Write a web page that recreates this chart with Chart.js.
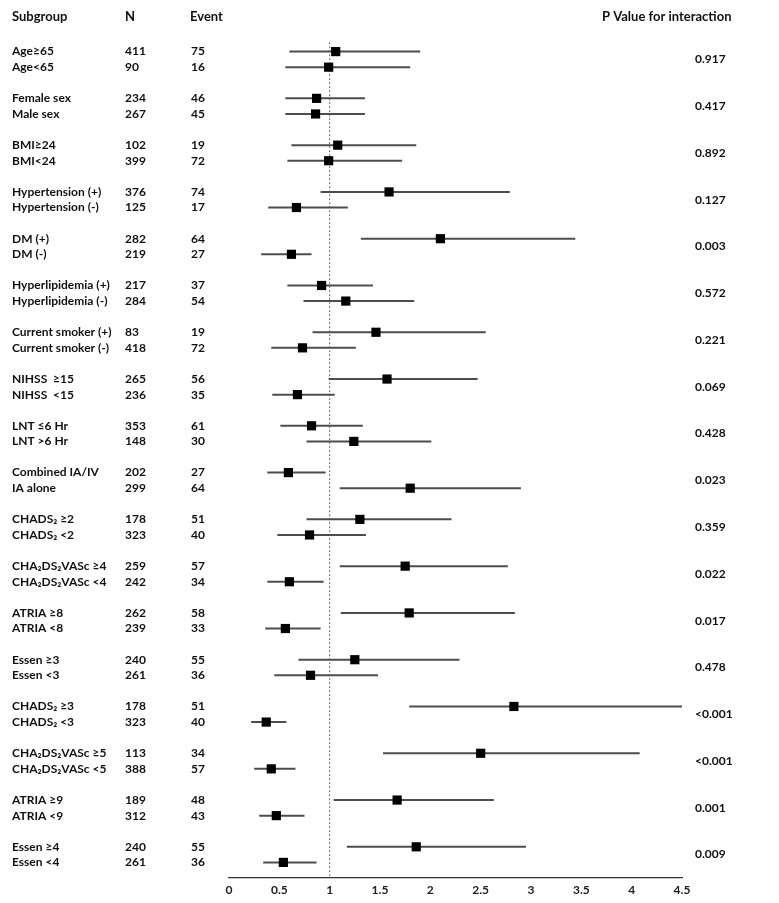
<!DOCTYPE html>
<html>
<head>
<meta charset="utf-8">
<script src="https://cdn.jsdelivr.net/npm/chart.js@4/dist/chart.umd.min.js"></script>
<style>
  html, body { margin: 0; padding: 0; background: #fff; }
  #forest { display: block; }
</style>
</head>
<body>
<canvas id="forest" width="779" height="903"></canvas>
<script>
// subgroup rows, two per group
var subgroups = [
    "Age\u226565", "Age<65",
    "Female sex", "Male sex",
    "BMI\u226524", "BMI<24",
    "Hypertension (+)", "Hypertension (-)",
    "DM (+)", "DM (-)",
    "Hyperlipidemia (+)", "Hyperlipidemia (-)",
    "Current smoker (+)", "Current smoker (-)",
    "NIHSS  \u226515", "NIHSS  <15",
    "LNT \u22646 Hr", "LNT >6 Hr",
    "Combined IA/IV", "IA alone",
    "CHADS\u2082 \u22652", "CHADS\u2082 <2",
    "CHA\u2082DS\u2082VASc \u22654", "CHA\u2082DS\u2082VASc <4",
    "ATRIA \u22658", "ATRIA <8",
    "Essen \u22653", "Essen <3",
    "CHADS\u2082 \u22653", "CHADS\u2082 <3",
    "CHA\u2082DS\u2082VASc \u22655", "CHA\u2082DS\u2082VASc <5",
    "ATRIA \u22659", "ATRIA <9",
    "Essen \u22654", "Essen <4"
];
var nCounts = [411, 90, 234, 267, 102, 399, 376, 125, 282, 219, 217, 284, 83, 418, 265, 236, 353, 148,
               202, 299, 178, 323, 259, 242, 262, 239, 240, 261, 178, 323, 113, 388, 189, 312, 240, 261];
var events = [75, 16, 46, 45, 19, 72, 74, 17, 64, 27, 37, 54, 19, 72, 56, 35, 61, 30,
              27, 64, 51, 40, 57, 34, 58, 33, 55, 36, 51, 40, 34, 57, 48, 43, 55, 36];
var hr = [1.06, 0.99, 0.87, 0.86, 1.08, 0.99, 1.59, 0.67, 2.10, 0.62, 0.92, 1.16, 1.46, 0.73, 1.57, 0.68, 0.82, 1.24,
          0.59, 1.80, 1.30, 0.80, 1.75, 0.60, 1.79, 0.56, 1.25, 0.81, 2.83, 0.37, 2.50, 0.42, 1.67, 0.47, 1.86, 0.54];
var lower = [0.60, 0.56, 0.56, 0.56, 0.62, 0.58, 0.91, 0.39, 1.31, 0.32, 0.58, 0.74, 0.83, 0.42, 0.99, 0.43, 0.51, 0.77,
             0.38, 1.10, 0.77, 0.48, 1.10, 0.38, 1.11, 0.36, 0.69, 0.45, 1.79, 0.22, 1.53, 0.25, 1.04, 0.30, 1.17, 0.34];
var upper = [1.90, 1.80, 1.35, 1.35, 1.86, 1.72, 2.79, 1.18, 3.44, 0.82, 1.43, 1.84, 2.55, 1.26, 2.47, 1.05, 1.33, 2.01,
             0.96, 2.90, 2.21, 1.36, 2.77, 0.94, 2.84, 0.91, 2.29, 1.48, 4.50, 0.57, 4.08, 0.66, 2.63, 0.75, 2.95, 0.87];
var pValues = ["0.917", "0.417", "0.892", "0.127", "0.003", "0.572", "0.221", "0.069", "0.428",
               "0.023", "0.359", "0.022", "0.017", "0.478", "<0.001", "<0.001", "0.001", "0.009"];
var headers = ["Subgroup", "N", "Event", "P Value for interaction"];
var xTickLabels = ["0", "0.5", "1", "1.5", "2", "2.5", "3", "3.5", "4", "4.5"];

// each group takes 3 rows: two subgroups and a gap
function rowPos(i) {
    return Math.floor(i / 2) * 3 + (i % 2);
}

var ciData = [];
var hrData = [];
for (var i = 0; i < subgroups.length; i++) {
    ciData.push({x: lower[i], y: rowPos(i)});
    ciData.push({x: upper[i], y: rowPos(i)});
    ciData.push({x: null, y: null});
    hrData.push({x: hr[i], y: rowPos(i)});
}

var textFont = "bold 12px Lato, 'Open Sans', sans-serif";
var headFont = "bold 13px Lato, 'Open Sans', sans-serif";

var tablePlugin = {
    id: 'tableText',
    afterDraw: function(chart) {
        var ctx = chart.ctx;
        var y = chart.scales.y;
        ctx.save();
        ctx.fillStyle = '#111';
        ctx.textBaseline = 'middle';
        ctx.textAlign = 'left';
        ctx.font = headFont;
        ctx.fillText(headers[0], 12, 17);
        ctx.fillText(headers[1], 125, 17);
        ctx.fillText(headers[2], 190, 17);
        ctx.fillText(headers[3], 602, 17);
        ctx.font = textFont;
        for (var i = 0; i < subgroups.length; i++) {
            var py = y.getPixelForValue(rowPos(i));
            ctx.fillText(subgroups[i], 12, py);
            ctx.fillText(String(nCounts[i]), 125, py);
            ctx.fillText(String(events[i]), 191, py);
        }
        for (var g = 0; g < pValues.length; g++) {
            ctx.fillText(pValues[g], 695, y.getPixelForValue(g * 3 + 0.5));
        }
        ctx.restore();
    }
};

new Chart(document.getElementById("forest"), {
    "type": "scatter",
    "data": {
        "datasets": [
            {
                "label": "HR",
                "order": 0,
                "data": hrData,
                "pointStyle": "rect",
                "pointRadius": 6.5,
                "backgroundColor": "#000",
                "borderColor": "#000",
                "borderWidth": 0
            },
            {
                "label": "CI",
                "order": 1,
                "data": ciData,
                "showLine": true,
                "spanGaps": false,
                "borderColor": "#4d4d4d",
                "borderWidth": 2,
                "pointRadius": 0
            },
            {
                "label": "ref",
                "order": 2,
                "data": [{x: 1, y: -0.6}, {x: 1, y: 53}],
                "showLine": true,
                "borderColor": "#666",
                "borderWidth": 1,
                "borderDash": [2, 2],
                "pointRadius": 0
            }
        ]
    },
    "options": {
        "responsive": false,
        "animation": false,
        "layout": {"padding": {"left": 229, "right": 97, "top": 36, "bottom": 0}},
        "plugins": {"legend": {"display": false}, "tooltip": {"enabled": false}},
        "scales": {
            "x": {
                "type": "linear",
                "min": 0,
                "max": 4.5,
                "afterFit": function(scale) { scale.height = 25; },
                "grid": {"display": false, "drawTicks": false},
                "border": {"display": true, "color": "#333", "width": 1.2},
                "ticks": {
                    "stepSize": 0.5,
                    "padding": 5,
                    "color": "#222",
                    "font": {"family": "Lato, 'Open Sans', sans-serif", "size": 12, "weight": "bold"},
                    "callback": function(v, idx) { return xTickLabels[idx]; }
                }
            },
            "y": {
                "type": "linear",
                "reverse": true,
                "min": -1,
                "max": 53,
                "display": false
            }
        }
    },
    "plugins": [tablePlugin]
});
</script>
</body>
</html>
